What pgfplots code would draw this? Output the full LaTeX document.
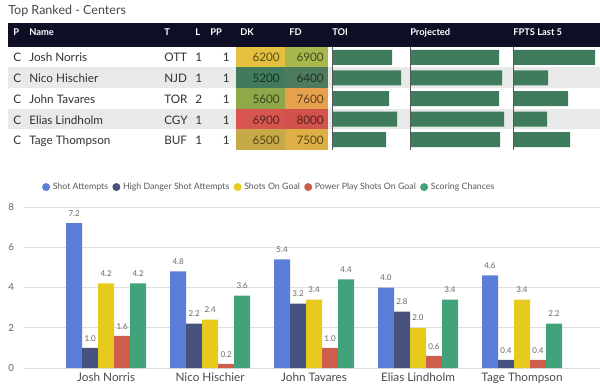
\documentclass[border=0pt]{standalone}
\usepackage{pgfplots}
\usepackage{pgfplotstable}
\pgfplotsset{compat=1.18}
\usepackage{fontspec}
\setmainfont{Lato}

\definecolor{hdr}{HTML}{0E0E26}
\definecolor{rowg}{HTML}{E8EAEA}
\definecolor{tbar}{HTML}{3F7C5E}
\definecolor{cA}{HTML}{5B7FD8}
\definecolor{cB}{HTML}{48527F}
\definecolor{cC}{HTML}{E6CB1E}
\definecolor{cD}{HTML}{CD5E4C}
\definecolor{cE}{HTML}{42A27A}
\definecolor{dkA}{HTML}{E4C03F}
\definecolor{fdA}{HTML}{A9B84C}
\definecolor{dkB}{HTML}{417A5C}
\definecolor{fdB}{HTML}{4E7A5E}
\definecolor{dkC}{HTML}{8FA94A}
\definecolor{fdC}{HTML}{E6A04E}
\definecolor{dkD}{HTML}{D8554F}
\definecolor{fdD}{HTML}{D4524E}
\definecolor{dkE}{HTML}{C7AA47}
\definecolor{fdE}{HTML}{DDAF45}
\definecolor{txt}{HTML}{333333}

\pgfplotstableread{
row TOI Proj FPTS
1 60 89 82
2 69 92 35
3 57 89 55
4 65 94 34
5 54 90 57
}\tbl

\pgfplotstableread{
x SA HD SOG PP SC
0 7.2 1.0 4.2 1.6 4.2
1 4.8 2.2 2.4 0.2 3.6
2 5.4 3.2 3.4 1.0 4.4
3 4.0 2.8 2.0 0.6 3.4
4 4.6 0.4 3.4 0.4 2.2
}\chart

\newcommand\bfs[1]{\fontsize{#1}{#1}\selectfont}

\pgfplotsset{
  colbar/.style={
    scale only axis, anchor=south west,
    height=77.25pt, ymin=0.5, ymax=5.5, y dir=reverse, xmin=0,
    hide axis, xbar, bar width=11.25pt, clip=false,
  },
  dotleg/.style={legend image code/.code={\fill[##1] (0pt,0pt) circle (3pt);}},
}

\begin{document}
\begin{tikzpicture}[x=0.75pt,y=-0.75pt]
\path[use as bounding box, fill=white] (0,0) rectangle (600,392);
\node[anchor=base west, inner sep=0, text=black!72, font=\bfs{9.4}] at (8,14.5) {Top Ranked - Centers};
\fill[hdr] (8,23) rectangle (600,47);
\foreach \x/\t in {13/P,29/Name,164/T,195/L,210/PP,240/DK,289/FD,332/TOI,410/Projected,513/FPTS Last 5}
  \node[anchor=base west, inner sep=0, text=white, font=\bfs{7}\bfseries] at (\x,36) {\t};
\fill[rowg] (8,67.5) rectangle (600,88.5);
\fill[rowg] (8,109) rectangle (600,129.5);
\foreach \ya/\yb/\cd/\cf in {47/67.5/dkA/fdA, 67.5/88.5/dkB/fdB, 88.5/109/dkC/fdC, 109/129.5/dkD/fdD, 129.5/150/dkE/fdE}{
  \fill[\cd] (236,\ya) rectangle (285,\yb);
  \fill[\cf] (285,\ya) rectangle (328,\yb);
}
\foreach \b/\n/\t/\l/\dk/\fd/\cd/\cf in {62/Josh Norris/OTT/1/6200/6900/dkA/fdA,
  83/Nico Hischier/NJD/1/5200/6400/dkB/fdB,
  104/John Tavares/TOR/2/5600/7600/dkC/fdC,
  124.5/Elias Lindholm/CGY/1/6900/8000/dkD/fdD,
  145/Tage Thompson/BUF/1/6500/7500/dkE/fdE}{
  \node[anchor=base west, inner sep=0, font=\bfs{8.8}, text=txt] at (13,\b) {C};
  \node[anchor=base west, inner sep=0, font=\bfs{8.8}, text=txt] at (29,\b) {\n};
  \node[anchor=base west, inner sep=0, font=\bfs{8.8}, text=txt] at (164,\b) {\t};
  \node[anchor=base west, inner sep=0, font=\bfs{8.8}, text=txt] at (195,\b) {\l};
  \node[anchor=base east, inner sep=0, font=\bfs{8.8}, text=txt] at (230,\b) {1};
  \node[anchor=base east, inner sep=0, font=\bfs{8.8}, text=\cd!40!black] at (280,\b) {\dk};
  \node[anchor=base east, inner sep=0, font=\bfs{8.8}, text=\cf!40!black] at (324,\b) {\fd};
}

\begin{axis}[colbar, at={({332*0.75pt},{-150*0.75pt})}, width=58.5pt, xmax=78]
  \addplot[fill=tbar, draw=none] table[x=TOI, y=row] {\tbl};
  \draw[black!65, line width=0.7pt] (axis cs:0,0.5) -- (axis cs:0,5.5);
\end{axis}
\begin{axis}[colbar, at={({410*0.75pt},{-150*0.75pt})}, width=76.5pt, xmax=102]
  \addplot[fill=tbar, draw=none] table[x=Proj, y=row] {\tbl};
  \draw[black!65, line width=0.7pt] (axis cs:0,0.5) -- (axis cs:0,5.5);
\end{axis}
\begin{axis}[colbar, at={({513*0.75pt},{-150*0.75pt})}, width=65.25pt, xmax=87]
  \addplot[fill=tbar, draw=none] table[x=FPTS, y=row] {\tbl};
  \draw[black!65, line width=0.7pt] (axis cs:0,0.5) -- (axis cs:0,5.5);
\end{axis}

\begin{axis}[
  at={({24*0.75pt},{-368*0.75pt})}, anchor=south west,
  scale only axis, width=432pt, height=120.75pt,
  xmin=-0.79, xmax=4.75, ymin=0, ymax=8,
  ybar=0pt, bar width=12pt,
  xtick={0,1,2,3,4},
  xticklabels={Josh Norris,Nico Hischier,John Tavares,Elias Lindholm,Tage Thompson},
  ytick={0,2,4,6,8},
  axis line style={draw=none}, major tick length=0pt,
  ymajorgrids, major grid style={draw=black!12, line width=0.6pt},
  /pgf/number format/assume math mode=true,
  yticklabel style={font=\bfs{7.3}, text=black!60, xshift=-4pt},
  xticklabel style={font=\bfs{8.8}, text=black!70},
  nodes near coords={\pgfmathprintnumber[fixed,fixed zerofill,precision=1]{\pgfplotspointmeta}},
  nodes near coords style={font=\bfs{6}, text=black!60, yshift=1.5pt},
  legend style={at={(0.024,1.124)}, anchor=west, draw=none, fill=none, font=\bfs{6.6}, text=black!65, legend columns=-1, /tikz/every even column/.append style={column sep=1.2pt}},
]
\addplot[fill=cA, draw=none, dotleg] table[x=x,y=SA] {\chart};
\addplot[fill=cB, draw=none, dotleg] table[x=x,y=HD] {\chart};
\addplot[fill=cC, draw=none, dotleg] table[x=x,y=SOG] {\chart};
\addplot[fill=cD, draw=none, dotleg] table[x=x,y=PP] {\chart};
\addplot[fill=cE, draw=none, dotleg] table[x=x,y=SC] {\chart};
\legend{Shot Attempts, High Danger Shot Attempts, Shots On Goal, Power Play Shots On Goal, Scoring Chances}
\end{axis}
\end{tikzpicture}
\end{document}
